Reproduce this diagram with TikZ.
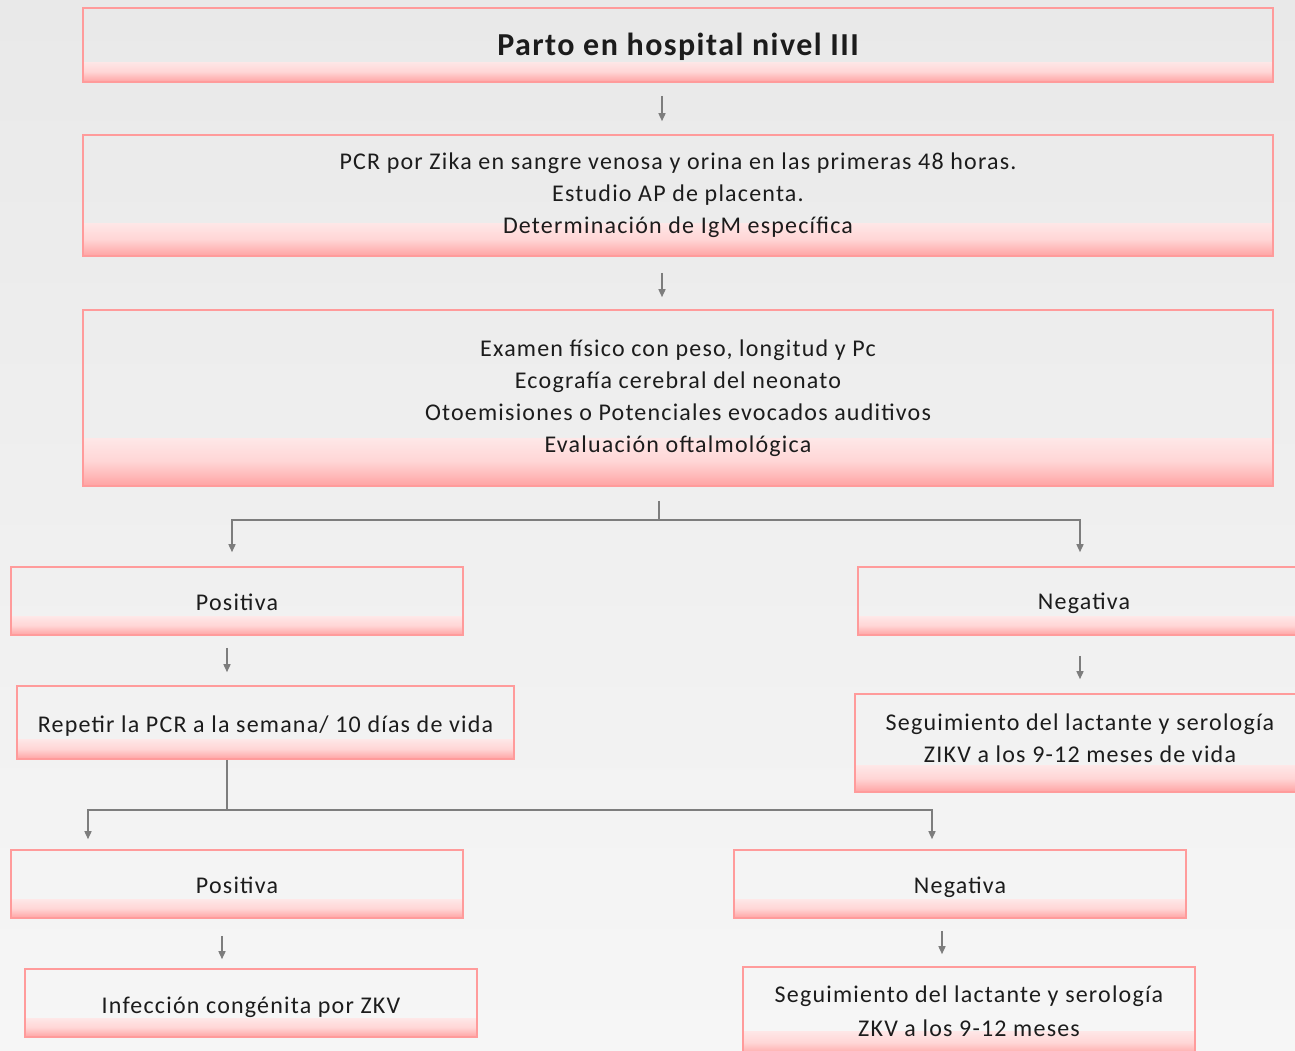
\documentclass[tikz,border=0pt]{standalone}
\usepackage{fontspec}
\setmainfont{Carlito}[LetterSpace=5]
\newfontfamily\titlefont{Carlito}[LetterSpace=4.5]
\usetikzlibrary{arrows.meta,calc}
\definecolor{bgtop}{RGB}{233,233,233}
\definecolor{bgbot}{RGB}{246,246,246}
\definecolor{pinkb}{RGB}{255,155,155}
\definecolor{bandtop}{RGB}{255,244,244}
\definecolor{bandmid}{RGB}{253,251,251}
\definecolor{bandbot}{RGB}{255,163,163}
\definecolor{lnc}{RGB}{125,125,125}
\definecolor{txt}{RGB}{28,28,28}
\pgfdeclareverticalshading{bandshade}{100bp}{color(0bp)=(bandbot); color(25bp)=(bandbot); color(32bp)=(bandbot!45!white); color(46bp)=(bandmid); color(52bp)=(bandtop); color(75bp)=(bandtop); color(100bp)=(bandtop)}
\newcommand{\lowr}[2]{\raisebox{-#1}[\height][\depth]{#2}}
\tikzset{
  box/.style={draw=pinkb, line width=1.6pt, rectangle, inner sep=0pt, align=center,
    text=txt, font=\fontsize{24}{32}\selectfont,
    path picture={
      \shade[shading=bandshade]
        let \p1=(path picture bounding box.north), \p2=(path picture bounding box.south),
            \n1={0.27*(\y1-\y2)} in
        (path picture bounding box.south west) rectangle ([yshift=\n1]path picture bounding box.south east);
    }},
  ln/.style={draw=lnc, line width=1.5pt},
  arr/.style={ln, -{Triangle[length=8pt,width=7pt]}}
}
\begin{document}
\begin{tikzpicture}[x=1pt,y=-1pt]
\useasboundingbox (0,0) rectangle (1295,1050);
\clip (0,0) rectangle (1295,1050);
\shade[top color=bgtop, bottom color=bgbot] (0,0) rectangle (1295,1050);

\node[box, minimum width=1190pt, minimum height=74pt, font=\fontsize{32}{32}\titlefont\bfseries] (n1) at (678,45) {\lowr{2pt}{Parto en hospital nivel III}};
\node[box, minimum width=1190pt, minimum height=121pt] (n2) at (678,195.5) {PCR por Zika en sangre venosa y orina en las primeras 48 horas.\\Estudio AP de placenta.\\Determinación de IgM específica};
\node[box, minimum width=1190pt, minimum height=176pt] (n3) at (678,398) {Examen físico con peso, longitud y Pc\\Ecografía cerebral del neonato\\Otoemisiones o Potenciales evocados auditivos\\Evaluación oftalmológica};
\node[box, minimum width=452pt, minimum height=68pt] (pos1) at (237,601) {\lowr{1pt}{Positiva}};
\node[box, minimum width=452pt, minimum height=68pt] (neg1) at (1084,601) {\lowr{2pt}{Negativa}};
\node[box, minimum width=497pt, minimum height=73pt] (rep) at (265.5,722.5) {\lowr{4pt}{Repetir la PCR a la semana/ 10 días de vida}};
\node[box, minimum width=450pt, minimum height=98pt] (seg1) at (1080,743) {\lowr{-3pt}{\begin{tabular}{@{}c@{}}Seguimiento del lactante y serología\\ZIKV a los 9-12 meses de vida\end{tabular}}};
\node[box, minimum width=452pt, minimum height=68pt] (pos2) at (237,884) {\lowr{1pt}{Positiva}};
\node[box, minimum width=452pt, minimum height=68pt] (neg2) at (960,884) {\lowr{3pt}{Negativa}};
\node[box, minimum width=452pt, minimum height=68pt] (inf) at (251,1003) {\lowr{4pt}{Infección congénita por ZKV}};
\node[box, minimum width=452pt, minimum height=88pt] (seg2) at (969,1011) {Seguimiento del lactante y serología\\[2pt]ZKV a los 9-12 meses};

% connectors
\draw[arr, shorten <=13pt, shorten >=13pt] ([xshift=-16pt]n1.south) -- ([xshift=-16pt]n2.north);
\draw[arr, shorten <=16pt, shorten >=12pt] ([xshift=-16pt]n2.south) -- ([xshift=-16pt]n3.north);

\coordinate (b1) at (659,520);
\draw[ln] ([xshift=-19pt,yshift=-14pt]n3.south) -- (b1);
\draw[arr, shorten >=14pt] (b1) -| ([xshift=-5pt]pos1.north);
\draw[arr, shorten >=14pt] (b1) -| ([xshift=-4pt]neg1.north);

\draw[arr, shorten <=12pt, shorten >=13pt] ([xshift=-10pt]pos1.south) -- ([xshift=-10pt]pos1.south |- rep.north);
\draw[arr, shorten <=20pt, shorten >=14pt] ([xshift=-4pt]neg1.south) -- ([xshift=-4pt]neg1.south |- seg1.north);

\coordinate (b2) at (227,810);
\draw[ln] (rep.south -| b2) -- (b2);
\draw[arr, shorten >=10pt] (b2) -| ([xshift=-149pt]pos2.north);
\draw[arr, shorten >=10pt] (b2) -| ([xshift=-28pt]neg2.north);

\draw[arr, shorten <=17pt, shorten >=9pt] ([xshift=-15pt]pos2.south) -- ([xshift=-15pt]pos2.south |- inf.north);
\draw[arr, shorten <=12pt, shorten >=12pt] ([xshift=-18pt]neg2.south) -- ([xshift=-18pt]neg2.south |- seg2.north);
\end{tikzpicture}
\end{document}
